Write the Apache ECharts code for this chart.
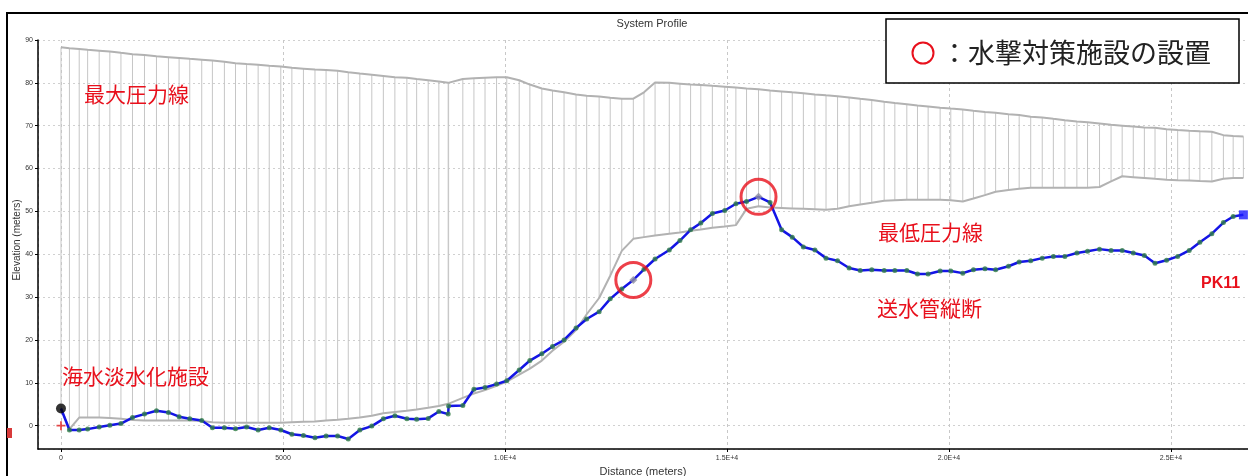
<!DOCTYPE html>
<html>
<head>
<meta charset="utf-8">
<script src="https://cdn.jsdelivr.net/npm/echarts@6/dist/echarts.min.js"></script>
<style>
html,body{margin:0;padding:0;background:#fff;}
#chart{width:1248px;height:476px;}
</style>
</head>
<body>
<div id="chart"></div>
<script>
// Node distances along the pipeline (m)
const distance = [0,190,410,600,860,1100,1350,1610,1880,2150,
 2420,2660,2900,3170,3410,3680,3930,4180,4440,4690,
 4950,5200,5460,5720,5970,6230,6470,6730,7000,7260,
 7520,7790,8010,8270,8510,8720,8730,9050,9300,9550,
 9810,10040,10320,10560,10830,11070,11330,11600,11840,12120,
 12370,12630,12890,13130,13380,13700,13940,14180,14410,14670,
 14950,15200,15440,15710,15970,16230,16470,16720,16980,17230,
 17490,17750,18000,18260,18540,18780,19050,19290,19530,19800,
 20040,20310,20550,20810,21050,21340,21580,21840,22100,22350,
 22610,22880,23120,23390,23650,23900,24150,24400,24640,24900,
 25150,25410,25650,25920,26180,26400,26630];
// Pipe elevation (送水管縦断)
const elevation = [4.0,-1.0,-1.0,-0.8,-0.3,0.1,0.5,1.9,2.7,3.5,
 3.1,2.1,1.6,1.2,-0.5,-0.5,-0.7,-0.3,-1.0,-0.5,
 -1.0,-2.0,-2.3,-2.8,-2.4,-2.4,-3.1,-1.0,-0.1,1.6,
 2.3,1.6,1.5,1.7,3.3,2.7,4.6,4.7,8.5,8.9,
 9.7,10.5,13.0,15.2,16.8,18.5,20.0,22.8,24.9,26.6,
 29.6,31.9,34.0,36.5,38.9,41.0,43.2,45.7,47.3,49.5,
 50.2,51.8,52.3,53.4,52.1,45.7,44.0,41.7,41.0,39.1,
 38.5,36.8,36.2,36.4,36.2,36.2,36.2,35.4,35.4,36.1,
 36.1,35.6,36.4,36.6,36.4,37.2,38.2,38.5,39.1,39.5,
 39.5,40.3,40.7,41.2,40.9,40.9,40.3,39.7,37.9,38.6,
 39.5,40.9,42.8,44.8,47.4,48.8,49.2];
// Maximum pressure line (最大圧力線)
const hglMax = [88.3,88.1,87.9,87.7,87.5,87.3,87.0,86.7,86.5,86.2,
 86.0,85.8,85.6,85.4,85.2,84.9,84.6,84.4,84.2,84.0,
 83.8,83.5,83.3,83.1,83.0,82.8,82.5,82.2,81.9,81.6,
 81.3,81.2,80.9,80.6,80.3,80.0,80.0,80.9,81.1,81.2,
 81.3,81.3,80.6,79.6,78.7,78.2,77.8,77.3,77.0,76.8,
 76.5,76.3,76.3,77.8,80.1,80.0,79.8,79.6,79.5,79.3,
 79.1,78.9,78.7,78.5,78.2,78.0,77.8,77.6,77.3,77.1,
 76.9,76.6,76.3,76.0,75.6,75.3,75.0,74.7,74.5,74.2,
 74.0,73.8,73.5,73.2,73.0,72.7,72.5,72.1,71.9,71.6,
 71.3,71.0,70.8,70.5,70.2,70.0,69.8,69.6,69.5,69.2,
 69.0,68.8,68.7,68.6,67.8,67.6,67.5];
// Minimum pressure line (最低圧力線)
const hglMin = [4.0,-0.8,1.9,1.9,1.9,1.8,1.6,1.3,1.2,1.2,
 1.2,1.2,1.2,1.1,0.8,0.7,0.7,0.7,0.7,0.7,
 0.7,0.8,0.9,1.0,1.2,1.4,1.6,1.9,2.3,2.9,
 3.2,3.5,3.8,4.2,4.6,5.1,5.1,6.5,7.5,8.3,
 9.3,10.3,11.9,13.3,15.2,17.5,19.6,22.3,26.0,29.8,
 35.0,40.8,43.6,44.0,44.4,44.8,45.1,45.5,45.8,46.2,
 46.5,46.8,50.6,51.2,50.9,50.8,50.7,50.6,50.5,50.4,
 50.6,51.2,51.6,52.0,52.5,52.6,52.7,52.7,52.7,52.7,
 52.6,52.3,53.0,53.8,54.6,55.0,55.3,55.5,55.5,55.5,
 55.5,55.5,55.5,55.7,57.0,58.2,58.0,57.8,57.6,57.4,
 57.3,57.2,57.1,57.0,57.6,57.8,57.8];
// Water-hammer countermeasure locations
const valveDistance = [12890, 15710];
const valveElevation = [34.0, 53.4];
// Start / end nodes
const sourceDistance = [0];
const sourceHead = [4.0];
const sourceGround = [0];
const endDistance = [26630];
const endElevation = [49.2];
// Tick labels
const xTickValues = [0, 5000, 10000, 15000, 20000, 25000];
const xTickText = ['0', '5000', '1.0E+4', '1.5E+4', '2.0E+4', '2.5E+4'];
const yTickValues = [0, 10, 20, 30, 40, 50, 60, 70, 80, 90];

const pipeData = distance.map((d, i) => [d, elevation[i]]);
const maxData = distance.map((d, i) => [d, hglMax[i]]);
const minData = distance.map((d, i) => [d, hglMin[i]]);
const hatchData = distance.map((d, i) => [d, hglMin[i], hglMax[i]]);
const nodeData = distance.map((d, i) => [d, elevation[i]])
  .filter((p, i) => i > 0 && i < distance.length - 1 && valveDistance.indexOf(p[0]) < 0);
const valveData = valveDistance.map((d, i) => [d, valveElevation[i]]);

const chart = echarts.init(document.getElementById('chart'), null, {renderer: 'canvas'});
const RED = '#e8101c';
const cjk = '"Noto Sans CJK JP", sans-serif';

chart.setOption({
  animation: false,
  backgroundColor: '#ffffff',
  grid: {left: 38, right: 0, top: 40, bottom: 27, containLabel: false, outerBoundsMode: 'none'},
  xAxis: {
    type: 'value', min: -518, max: 26734,
    minInterval: 5000, maxInterval: 5000,
    name: 'Distance (meters)', nameLocation: 'middle', nameGap: 16,
    nameTextStyle: {fontFamily: 'Liberation Sans', fontSize: 11, color: '#333'},
    axisLine: {show: true, onZero: false, lineStyle: {color: '#000', width: 1.5}},
    axisTick: {show: true, length: 3, lineStyle: {color: '#000'}},
    axisLabel: {fontFamily: 'Liberation Sans', fontSize: 7, color: '#333', margin: 6,
      showMinLabel: false, showMaxLabel: false,
      formatter: v => { const k = xTickValues.indexOf(v); return k >= 0 ? xTickText[k] : ''; }},
    splitLine: {show: true, lineStyle: {color: '#c8c8c8', type: [3, 3], width: 1}}
  },
  yAxis: {
    type: 'value', min: -5.44, max: 90,
    minInterval: 10, maxInterval: 10, splitNumber: 10,
    axisLine: {show: true, onZero: false, lineStyle: {color: '#000', width: 1.5}},
    axisTick: {show: true, length: 3, lineStyle: {color: '#000'}},
    axisLabel: {fontFamily: 'Liberation Sans', fontSize: 7, color: '#333', margin: 5,
      showMinLabel: false,
      formatter: v => yTickValues.indexOf(v) >= 0 ? String(v) : ''},
    splitLine: {show: true, lineStyle: {color: '#d0d0d0', type: [2, 3], width: 1}}
  },
  series: [
    {
      name: 'hatch', type: 'custom', z: 1, silent: true,
      data: hatchData,
      encode: {x: 0, y: [1, 2]},
      renderItem: (params, api) => {
        const x = api.value(0);
        const p1 = api.coord([x, api.value(1)]);
        const p2 = api.coord([x, api.value(2)]);
        return {type: 'line', shape: {x1: p1[0], y1: p1[1], x2: p2[0], y2: p2[1]},
                style: {stroke: '#c6c6c6', lineWidth: 1}};
      }
    },
    {
      name: '最大圧力線', type: 'line', z: 2, data: maxData, showSymbol: false,
      lineStyle: {color: '#b2b2b2', width: 2}
    },
    {
      name: '最低圧力線', type: 'line', z: 2, data: minData, showSymbol: false,
      lineStyle: {color: '#b2b2b2', width: 2}
    },
    {
      name: '送水管縦断', type: 'line', z: 3, data: pipeData, showSymbol: false,
      lineStyle: {color: '#1414e6', width: 2.5}
    },
    {
      name: 'nodes', type: 'scatter', z: 4, data: nodeData, symbol: 'circle', symbolSize: 5,
      itemStyle: {color: '#2f7d45'}
    },
    {
      name: 'valves', type: 'scatter', z: 4, data: valveData, symbol: 'diamond', symbolSize: 8,
      itemStyle: {color: '#8c8ca0'}
    },
    {
      name: 'valveRings', type: 'scatter', z: 5, data: valveData, symbol: 'circle', symbolSize: 35,
      itemStyle: {color: 'rgba(0,0,0,0)', borderColor: RED, borderWidth: 3}
    },
    {
      name: 'source', type: 'scatter', z: 5, data: sourceDistance.map((d, i) => [d, sourceHead[i]]),
      symbol: 'circle', symbolSize: 10, itemStyle: {color: '#000'}
    },
    {
      name: 'sourceGround', type: 'scatter', z: 5, data: sourceDistance.map((d, i) => [d, sourceGround[i]]),
      symbol: 'path://M4,0h2v4h4v2h-4v4h-2v-4h-4v-2h4z', symbolSize: 9, itemStyle: {color: '#e02020'}
    },
    {
      name: 'end', type: 'scatter', z: 5, data: endDistance.map((d, i) => [d, endElevation[i]]),
      symbol: 'rect', symbolSize: 9, itemStyle: {color: '#1a1aff'}
    }
  ],
  graphic: [
    {type: 'rect', shape: {x: 7, y: 13, width: 1260, height: 480}, silent: true,
     style: {fill: 'none', stroke: '#000', lineWidth: 2}, z: 100},
    {type: 'rect', shape: {x: 7, y: 428, width: 5, height: 10}, style: {fill: '#d83a3a'}, z: 100},
    {type: 'text', x: 17, y: 240, rotation: Math.PI / 2, z: 100,
     style: {text: 'Elevation (meters)', fontFamily: 'Liberation Sans', fontSize: 10, fill: '#333',
             align: 'center', verticalAlign: 'middle'}},
    {type: 'text', x: 652, y: 24, z: 100,
     style: {text: 'System Profile', fontFamily: 'Liberation Sans', fontSize: 11, fill: '#333',
             align: 'center', verticalAlign: 'middle'}},
    {type: 'rect', shape: {x: 886, y: 19, width: 353, height: 64}, z: 100,
     style: {fill: '#fff', stroke: '#000', lineWidth: 1.5}},
    {type: 'circle', shape: {cx: 923, cy: 53, r: 10.5}, z: 101,
     style: {fill: 'none', stroke: RED, lineWidth: 2}},
    {type: 'text', x: 941, y: 53, z: 101,
     style: {text: '：水撃対策施設の設置', fontFamily: cjk, fontSize: 27, fill: '#222', verticalAlign: 'middle'}},
    {type: 'text', x: 84, y: 94, z: 100,
     style: {text: '最大圧力線', fontFamily: cjk, fontSize: 21, fill: RED, verticalAlign: 'middle'}},
    {type: 'text', x: 62, y: 376, z: 100,
     style: {text: '海水淡水化施設', fontFamily: cjk, fontSize: 21, fill: RED, verticalAlign: 'middle'}},
    {type: 'text', x: 878, y: 232, z: 100,
     style: {text: '最低圧力線', fontFamily: cjk, fontSize: 21, fill: RED, verticalAlign: 'middle'}},
    {type: 'text', x: 877, y: 308, z: 100,
     style: {text: '送水管縦断', fontFamily: cjk, fontSize: 21, fill: RED, verticalAlign: 'middle'}},
    {type: 'text', x: 1201, y: 284, z: 100,
     style: {text: 'PK11', fontFamily: 'Liberation Sans', fontWeight: 'bold', fontSize: 16, fill: RED, verticalAlign: 'middle'}}
  ]
});
</script>
</body>
</html>
